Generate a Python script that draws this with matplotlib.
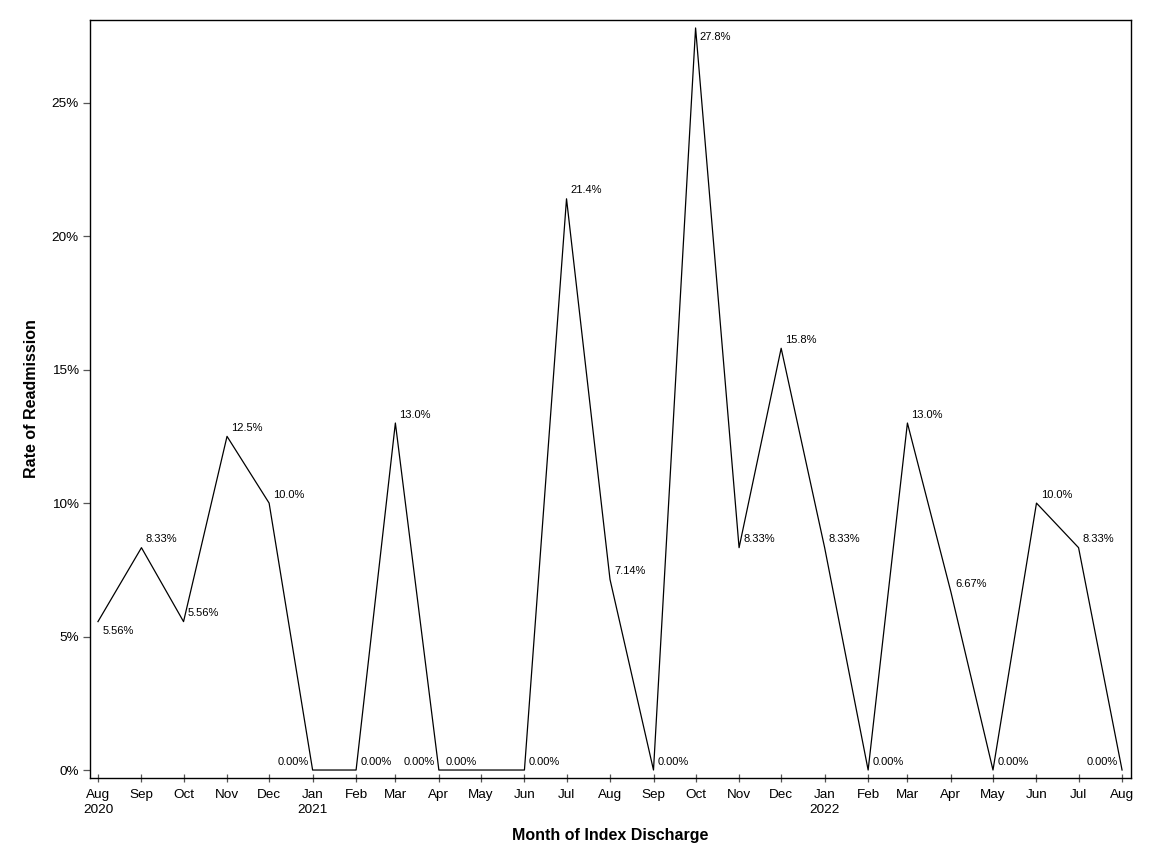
import numpy as np
import pandas as pd
import matplotlib
matplotlib.use("Agg")
from matplotlib import pyplot as plt
import matplotlib.dates as mdates
from matplotlib.ticker import FuncFormatter

# monthly readmission rates (%)
months = pd.date_range("2020-08-01", "2022-08-01", freq="MS")
rates = [5.56, 8.33, 5.56, 12.5, 10.0, 0.0, 0.0, 13.0, 0.0, 0.0, 0.0, 21.4,
         7.14, 0.0, 27.8, 8.33, 15.8, 8.33, 0.0, 13.0, 6.67, 0.0, 10.0, 8.33, 0.0]
labels = ["5.56%", "8.33%", "5.56%", "12.5%", "10.0%", "0.00%", "0.00%", "13.0%",
          "0.00%", "0.00%", "0.00%", "21.4%", "7.14%", "0.00%", "27.8%", "8.33%",
          "15.8%", "8.33%", "0.00%", "13.0%", "6.67%", "0.00%", "10.0%", "8.33%", "0.00%"]

# where each label sits relative to its point
placement = ["below", "right", "right", "right", "right", "left", "right", "right",
             "left", "left", "right", "right", "right", "right", "below", "right",
             "right", "right", "right", "right", "right", "right", "right", "right", "left"]

plt.rcParams['font.family'] = ['Liberation Sans', 'DejaVu Sans']

fig = plt.figure(figsize=(11.52, 8.64), dpi=100)
ax = fig.add_axes([0.0781, 0.0995, 0.9037, 0.8774])

ax.plot(months, rates, color="black", linewidth=0.9)

offsets = {"right": ((3, 6), "left"), "left": ((-3, 6), "right"), "below": ((3, -6.5), "left")}
for m, r, lab, p in zip(months, rates, labels, placement):
    (dx, dy), ha = offsets[p]
    ax.annotate(lab, (m, r), xytext=(dx, dy), textcoords="offset points",
                ha=ha, va="center", fontsize=8)

ax.set_xlim(months[0] - pd.Timedelta(days=5.7), months[-1] + pd.Timedelta(days=6.4))
ax.set_ylim(-0.3, 28.1)

ax.set_xticks(months)
ax.set_xticklabels([m.strftime("%b\n%Y") if (m.month == 1 or i == 0) else m.strftime("%b")
                    for i, m in enumerate(months)], linespacing=1.3)
ax.set_yticks([0, 5, 10, 15, 20, 25])
ax.yaxis.set_major_formatter(FuncFormatter(lambda v, pos: f"{v:.0f}%"))

ax.tick_params(axis="x", direction="inout", length=6, width=0.9, color="#555555",
               labelsize=9.7, pad=5)
ax.tick_params(axis="y", direction="out", length=5, width=0.9, color="#555555",
               labelsize=9.7, pad=3)
for s in ax.spines.values():
    s.set_linewidth(1.0)

ax.set_xlabel("Month of Index Discharge", fontsize=11.5, fontweight="bold", labelpad=9)
ax.set_ylabel("Rate of Readmission", fontsize=11.5, fontweight="bold", labelpad=9)

fig.savefig("out.png", dpi=100)
